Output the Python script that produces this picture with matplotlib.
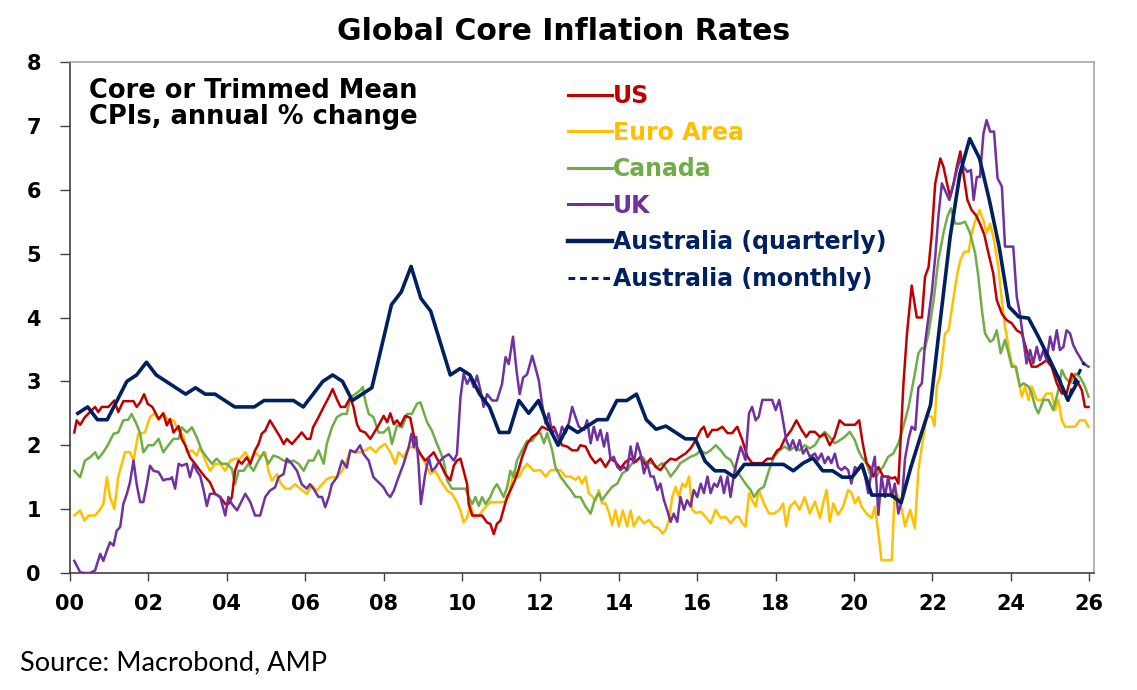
import numpy as np
import matplotlib
matplotlib.use("Agg")
import matplotlib.pyplot as plt
from matplotlib.lines import Line2D

# ---------------- data (decimal years since 2000, % y/y) ----------------
us_year = [0.11,0.17,0.26,0.38,0.51,0.64,0.72,0.81,0.98,1.13,1.23,1.36,1.49,1.62,1.7,1.79,1.89,1.98,2.1,2.17,2.26,2.38,2.47,2.55,2.64,2.77,2.85,2.94,3.06,3.19,3.32,3.45,3.57,3.7,3.83,3.96,4.04,4.13,4.21,4.3,4.38,4.51,4.6,4.72,4.81,4.89,4.98,5.1,5.23,5.36,5.45,5.53,5.66,5.79,5.91,6.04,6.13,6.2,6.34,6.47,6.6,6.7,6.8,6.9,7.02,7.15,7.23,7.32,7.4,7.53,7.66,7.74,7.87,8.0,8.09,8.17,8.26,8.34,8.43,8.55,8.68,8.77,8.85,8.94,9.06,9.15,9.28,9.36,9.45,9.57,9.7,9.79,9.87,9.96,10.04,10.13,10.17,10.26,10.38,10.51,10.64,10.72,10.81,10.89,10.98,11.06,11.15,11.23,11.36,11.45,11.53,11.66,11.79,11.91,12.04,12.2,12.34,12.43,12.55,12.68,12.81,12.94,13.02,13.15,13.28,13.4,13.53,13.66,13.79,13.91,14.04,14.17,14.3,14.43,14.55,14.68,14.81,14.94,15.06,15.19,15.32,15.45,15.57,15.7,15.83,15.96,16.09,16.17,16.26,16.38,16.51,16.64,16.77,16.89,17.02,17.15,17.28,17.4,17.53,17.66,17.79,17.91,18.04,18.12,18.23,18.4,18.53,18.66,18.78,18.87,19.0,19.13,19.25,19.38,19.5,19.63,19.76,19.89,20.02,20.13,20.22,20.32,20.4,20.49,20.62,20.74,20.87,20.96,21.05,21.13,21.26,21.35,21.47,21.6,21.73,21.81,21.9,21.98,22.07,22.2,22.28,22.37,22.45,22.54,22.62,22.71,22.79,22.89,23.0,23.11,23.21,23.32,23.43,23.55,23.64,23.77,23.89,24.02,24.15,24.28,24.4,24.53,24.66,24.79,24.91,25.04,25.17,25.3,25.42,25.55,25.68,25.81,25.89,25.98]
us_val = [2.2,2.39,2.32,2.44,2.52,2.6,2.52,2.6,2.6,2.7,2.52,2.69,2.69,2.69,2.6,2.67,2.8,2.65,2.6,2.52,2.41,2.5,2.31,2.41,2.2,2.3,2.1,2.0,1.81,1.71,1.6,1.5,1.42,1.24,1.19,1.08,1.08,1.19,1.6,1.76,1.71,1.81,1.71,1.92,2.02,2.18,2.23,2.39,2.26,2.13,2.02,2.1,2.02,2.11,2.2,2.1,2.1,2.28,2.44,2.6,2.75,2.88,2.73,2.6,2.6,2.75,2.6,2.33,2.23,2.2,2.1,2.18,2.31,2.46,2.36,2.5,2.33,2.39,2.31,2.46,2.43,2.15,1.97,1.86,1.76,1.81,1.89,1.79,1.71,1.55,1.45,1.68,1.76,1.79,1.6,1.39,1.08,0.9,0.9,0.9,0.79,0.77,0.61,0.77,0.82,1.0,1.19,1.29,1.47,1.63,1.81,2.02,2.13,2.18,2.29,2.24,2.29,2.16,2.0,1.98,1.92,1.92,2.0,1.98,1.82,1.72,1.79,1.66,1.79,1.74,1.64,1.74,1.79,1.74,1.82,1.69,1.79,1.66,1.61,1.72,1.79,1.77,1.82,1.87,1.95,2.08,2.24,2.29,2.13,2.24,2.24,2.29,2.19,2.19,2.29,2.08,1.82,1.72,1.72,1.72,1.79,1.79,1.92,1.95,2.1,2.24,2.39,2.24,2.13,2.21,2.21,2.13,2.18,2.0,2.13,2.39,2.32,2.32,2.32,2.39,2.03,1.72,1.66,1.51,1.66,1.51,1.51,1.48,1.5,1.4,2.97,3.75,4.5,4.0,4.0,4.64,4.79,5.3,6.1,6.49,6.36,6.1,5.89,6.1,6.36,6.6,6.25,5.84,5.68,5.6,5.47,5.3,5.0,4.69,4.27,4.06,3.96,3.91,3.8,3.75,3.49,3.23,3.23,3.28,3.33,3.23,2.97,2.81,2.81,3.12,3.02,2.86,2.6,2.6]

ea_year = [0.11,0.26,0.37,0.47,0.64,0.77,0.85,0.94,1.02,1.13,1.23,1.32,1.4,1.53,1.62,1.74,1.91,2.04,2.15,2.26,2.38,2.51,2.64,2.77,2.89,2.98,3.11,3.23,3.32,3.45,3.57,3.7,3.83,3.96,4.09,4.21,4.34,4.47,4.6,4.72,4.85,4.98,5.06,5.15,5.28,5.36,5.49,5.62,5.74,5.87,6.04,6.17,6.3,6.43,6.55,6.68,6.81,6.94,7.06,7.15,7.28,7.4,7.53,7.66,7.79,7.91,8.04,8.17,8.3,8.38,8.51,8.64,8.77,8.85,8.94,9.06,9.19,9.32,9.45,9.62,9.74,9.87,9.96,10.04,10.13,10.21,10.3,10.43,10.55,10.72,10.89,11.06,11.19,11.32,11.45,11.53,11.66,11.83,12.0,12.13,12.26,12.38,12.51,12.64,12.77,12.89,12.98,13.06,13.15,13.23,13.32,13.4,13.49,13.57,13.66,13.74,13.83,13.91,14.0,14.1,14.21,14.3,14.38,14.51,14.64,14.77,14.89,15.02,15.11,15.19,15.28,15.36,15.45,15.53,15.62,15.7,15.79,15.87,15.96,16.09,16.21,16.34,16.47,16.6,16.72,16.85,16.98,17.06,17.15,17.23,17.32,17.4,17.49,17.57,17.7,17.83,17.96,18.1,18.19,18.27,18.36,18.49,18.61,18.74,18.87,19.0,19.13,19.21,19.3,19.38,19.47,19.59,19.72,19.85,19.94,20.02,20.11,20.19,20.32,20.45,20.53,20.62,20.7,20.83,20.96,21.04,21.17,21.3,21.43,21.55,21.64,21.73,21.85,21.98,22.05,22.11,22.2,22.32,22.41,22.54,22.62,22.71,22.81,22.92,23.0,23.09,23.2,23.3,23.38,23.47,23.57,23.68,23.77,23.85,23.94,24.02,24.11,24.19,24.28,24.36,24.45,24.53,24.66,24.79,24.91,25.04,25.13,25.21,25.3,25.38,25.51,25.64,25.76,25.89,25.98]
ea_val = [0.9,0.98,0.82,0.9,0.9,1.0,1.08,1.5,1.19,1.0,1.5,1.71,1.89,1.89,1.76,2.18,2.2,2.44,2.5,2.4,2.5,2.39,2.39,2.23,2.15,1.89,1.92,1.84,1.97,1.76,1.6,1.71,1.71,1.6,1.76,1.79,1.79,1.89,1.76,1.89,1.81,1.89,1.6,1.45,1.55,1.42,1.32,1.32,1.39,1.32,1.24,1.37,1.29,1.39,1.47,1.5,1.5,1.6,1.76,1.92,1.89,1.89,1.92,1.97,1.89,1.97,2.02,1.89,1.71,1.89,1.81,1.97,1.97,1.92,1.86,1.71,1.55,1.6,1.45,1.29,1.24,1.11,0.98,0.79,0.87,1.08,0.87,0.9,1.0,1.11,1.11,1.11,1.19,1.6,1.5,1.6,1.71,1.6,1.61,1.51,1.61,1.61,1.61,1.51,1.51,1.46,1.51,1.4,1.51,1.25,1.2,1.14,1.3,1.09,1.09,0.96,0.75,0.98,0.73,0.98,0.73,0.98,0.73,0.88,0.78,0.83,0.73,0.7,0.62,0.67,0.83,1.19,1.35,1.19,1.4,1.35,1.51,0.99,0.94,0.96,0.88,0.78,0.99,0.86,0.88,0.78,0.88,0.88,0.78,0.73,1.25,1.14,1.04,1.3,1.09,0.93,0.93,0.99,1.09,0.73,1.04,1.12,0.99,1.19,0.93,1.12,0.86,1.09,1.3,0.8,1.09,0.91,1.04,1.3,1.25,1.09,1.19,1.04,0.93,0.86,1.04,0.62,0.2,0.2,0.2,1.3,1.14,0.73,0.99,0.7,1.61,1.98,2.45,2.45,2.3,2.92,3.1,3.75,3.8,4.32,4.64,4.9,5.03,5.03,5.32,5.52,5.68,5.52,5.32,5.47,5.21,4.79,4.27,3.85,3.54,3.28,3.23,3.02,2.76,2.92,2.71,2.92,2.71,2.71,2.81,2.81,2.55,2.71,2.39,2.29,2.29,2.29,2.39,2.39,2.29]

ca_year = [0.11,0.26,0.38,0.51,0.64,0.72,0.85,0.98,1.11,1.23,1.36,1.49,1.57,1.7,1.79,1.87,2.0,2.13,2.26,2.38,2.51,2.64,2.77,2.85,2.98,3.11,3.23,3.36,3.49,3.62,3.74,3.87,4.0,4.13,4.21,4.3,4.43,4.55,4.68,4.81,4.94,5.06,5.19,5.32,5.45,5.57,5.7,5.83,5.96,6.09,6.21,6.34,6.47,6.55,6.68,6.81,6.94,7.06,7.15,7.28,7.4,7.47,7.53,7.62,7.74,7.87,8.0,8.13,8.21,8.34,8.47,8.6,8.72,8.85,8.94,9.02,9.11,9.23,9.36,9.45,9.53,9.62,9.74,9.87,10.0,10.09,10.17,10.26,10.34,10.43,10.51,10.6,10.72,10.81,10.89,10.98,11.06,11.15,11.23,11.32,11.4,11.53,11.66,11.79,11.91,12.0,12.09,12.17,12.3,12.38,12.51,12.64,12.77,12.89,13.02,13.15,13.28,13.38,13.49,13.57,13.7,13.83,13.96,14.09,14.21,14.34,14.47,14.6,14.72,14.85,14.98,15.11,15.23,15.32,15.45,15.57,15.7,15.83,15.96,16.09,16.21,16.34,16.47,16.6,16.72,16.85,16.98,17.11,17.23,17.36,17.45,17.57,17.7,17.83,17.96,18.1,18.23,18.36,18.49,18.61,18.74,18.87,19.0,19.13,19.25,19.38,19.51,19.64,19.76,19.89,20.02,20.11,20.19,20.32,20.4,20.49,20.57,20.66,20.74,20.87,21.0,21.13,21.21,21.3,21.39,21.47,21.55,21.64,21.73,21.81,21.9,22.03,22.15,22.28,22.38,22.47,22.58,22.71,22.83,22.96,23.09,23.17,23.26,23.34,23.47,23.55,23.64,23.74,23.85,23.94,24.02,24.13,24.23,24.32,24.45,24.53,24.62,24.7,24.83,24.96,25.08,25.21,25.3,25.38,25.51,25.64,25.76,25.89,25.98]
ca_val = [1.6,1.5,1.76,1.81,1.89,1.79,1.89,2.02,2.18,2.2,2.39,2.4,2.49,2.33,2.18,1.89,2.0,2.0,2.1,1.89,2.0,2.1,2.1,2.28,2.2,2.28,2.13,1.92,1.81,1.71,1.79,1.71,1.71,1.63,1.39,1.6,1.6,1.71,1.6,1.76,1.89,1.71,1.84,1.81,1.76,1.73,1.76,1.71,1.6,1.76,1.76,1.92,1.71,2.02,2.28,2.44,2.49,2.49,2.75,2.8,2.86,2.91,2.7,2.49,2.44,2.2,2.2,2.28,2.02,2.31,2.28,2.49,2.49,2.65,2.67,2.52,2.36,2.23,2.02,1.89,1.76,1.45,1.32,1.32,1.32,1.32,1.19,1.08,1.19,1.05,1.19,1.08,1.19,1.32,1.39,1.29,1.19,1.34,1.6,1.5,1.76,1.92,2.07,2.07,2.18,2.19,2.03,2.19,1.92,1.66,1.51,1.4,1.3,1.19,1.19,1.04,0.93,1.14,1.25,1.14,1.25,1.35,1.4,1.56,1.61,1.72,1.77,1.82,1.72,1.72,1.66,1.72,1.61,1.51,1.61,1.72,1.77,1.82,1.85,1.92,1.87,1.92,2.0,1.92,1.82,1.77,1.61,1.51,1.4,1.3,1.19,1.3,1.35,1.61,1.82,1.92,1.98,1.92,1.98,1.92,2.0,1.95,2.0,2.13,2.21,2.13,2.03,2.08,2.13,2.21,2.08,1.92,1.82,1.72,1.56,1.61,1.51,1.61,1.66,1.82,1.87,2.03,2.19,2.39,2.6,2.86,3.12,3.44,3.52,3.52,3.75,4.27,4.9,5.32,5.58,5.71,5.47,5.47,5.5,5.32,5.0,4.64,4.12,3.75,3.62,3.65,3.8,3.44,3.65,3.44,3.23,3.23,2.92,2.97,2.92,2.81,2.6,2.5,2.71,2.71,2.55,2.86,3.18,3.07,2.97,3.12,3.07,2.92,2.76]

uk_year = [0.11,0.26,0.38,0.51,0.64,0.77,0.85,0.94,1.02,1.11,1.19,1.28,1.36,1.45,1.53,1.62,1.7,1.79,1.87,1.96,2.04,2.13,2.26,2.38,2.47,2.55,2.6,2.68,2.77,2.85,2.98,3.06,3.15,3.23,3.32,3.4,3.49,3.57,3.7,3.83,3.96,4.04,4.13,4.26,4.38,4.47,4.6,4.72,4.85,4.98,5.1,5.23,5.32,5.45,5.53,5.66,5.79,5.91,6.04,6.12,6.21,6.34,6.43,6.51,6.6,6.68,6.81,6.94,7.06,7.15,7.28,7.4,7.49,7.62,7.74,7.87,8.0,8.09,8.17,8.26,8.38,8.51,8.64,8.71,8.77,8.83,8.89,8.95,9.06,9.15,9.23,9.32,9.4,9.53,9.66,9.79,9.87,9.96,10.04,10.13,10.21,10.3,10.38,10.47,10.55,10.64,10.77,10.89,11.02,11.11,11.19,11.3,11.39,11.47,11.56,11.66,11.79,11.87,11.96,12.04,12.13,12.21,12.3,12.38,12.47,12.55,12.64,12.72,12.81,12.89,12.98,13.11,13.19,13.28,13.36,13.45,13.53,13.62,13.7,13.79,13.87,13.96,14.04,14.13,14.21,14.3,14.38,14.47,14.55,14.64,14.72,14.81,14.89,14.98,15.06,15.15,15.23,15.32,15.4,15.49,15.57,15.66,15.74,15.83,15.91,16.0,16.09,16.17,16.26,16.34,16.43,16.51,16.6,16.68,16.77,16.85,16.94,17.02,17.11,17.23,17.32,17.4,17.49,17.57,17.66,17.79,17.91,18.0,18.09,18.17,18.27,18.36,18.44,18.53,18.61,18.7,18.78,18.87,19.0,19.08,19.17,19.25,19.34,19.42,19.51,19.59,19.68,19.76,19.85,19.93,20.02,20.11,20.19,20.28,20.36,20.45,20.53,20.62,20.7,20.79,20.87,20.96,21.04,21.13,21.22,21.3,21.39,21.47,21.56,21.64,21.73,21.81,21.9,21.98,22.07,22.15,22.24,22.32,22.43,22.54,22.62,22.71,22.79,22.89,22.98,23.05,23.13,23.21,23.3,23.38,23.47,23.57,23.66,23.77,23.85,23.94,24.06,24.15,24.23,24.32,24.4,24.49,24.57,24.66,24.74,24.83,24.91,25.0,25.08,25.17,25.25,25.34,25.42,25.51,25.59,25.68,25.76,25.85,25.98]
uk_val = [0.19,0.01,0.0,0.0,0.04,0.3,0.19,0.35,0.48,0.43,0.66,0.72,1.08,1.24,1.42,1.76,1.39,1.11,1.11,1.39,1.68,1.6,1.58,1.45,1.47,1.47,1.5,1.32,1.71,1.68,1.71,1.5,1.71,1.6,1.52,1.32,1.05,1.24,1.24,1.19,0.9,1.19,1.08,0.98,1.13,1.24,1.11,0.9,0.9,1.19,1.29,1.34,1.5,1.55,1.79,1.71,1.6,1.39,1.32,1.39,1.32,1.19,1.19,1.03,1.19,1.39,1.5,1.76,1.65,1.92,1.89,2.0,1.86,1.76,1.5,1.42,1.34,1.24,1.19,1.29,1.5,1.71,1.97,2.18,1.97,2.13,1.71,1.08,1.55,1.81,1.6,1.65,1.73,1.81,1.86,1.76,1.86,2.75,3.12,2.96,3.06,2.91,3.09,2.86,2.6,2.8,2.7,2.7,2.96,3.38,3.27,3.7,3.17,2.8,3.06,3.11,3.4,3.22,3.01,2.65,2.34,2.5,2.19,2.24,2.08,2.29,2.19,2.34,2.6,2.45,2.29,2.24,2.39,2.03,2.29,2.08,2.24,1.98,2.19,1.77,1.82,1.66,1.61,1.66,1.61,1.98,1.72,2.03,1.87,1.56,1.72,1.51,1.51,1.3,1.4,1.14,0.99,0.8,0.93,0.8,1.19,0.99,1.14,1.04,1.3,1.19,1.4,1.25,1.51,1.25,1.4,1.35,1.51,1.25,1.51,1.19,1.56,1.77,1.98,1.77,2.5,2.6,2.39,2.45,2.71,2.71,2.71,2.55,2.71,2.45,2.08,1.95,2.08,1.92,2.08,1.87,1.95,1.82,1.87,1.77,1.87,1.72,1.82,1.72,1.87,1.66,1.61,1.66,1.61,1.4,1.66,1.61,1.69,1.51,1.25,1.61,1.82,0.91,1.51,1.19,1.51,1.19,1.4,0.93,1.14,1.79,2.1,2.29,2.24,2.9,2.97,3.6,4.01,4.38,4.95,5.58,6.1,5.99,5.84,6.1,6.31,6.49,6.36,6.28,6.31,5.84,6.2,6.2,6.88,7.09,6.91,6.91,6.18,6.05,5.11,5.11,5.11,4.32,4.06,3.65,3.28,3.49,3.28,3.54,3.33,3.49,3.33,3.7,3.49,3.8,3.49,3.54,3.8,3.75,3.57,3.46,3.38,3.28,3.23]

# Australia trimmed mean, quarterly (first quarter 2000 Q1)
au_q_val = [2.5,2.6,2.4,2.4,2.7,3.0,3.1,3.3,3.1,3.0,2.9,2.8,2.9,2.8,2.8,2.7,2.6,2.6,2.6,2.7,2.7,2.7,2.7,2.6,2.8,3.0,3.1,3.0,2.7,2.8,2.9,3.55,4.2,4.4,4.8,4.3,4.1,3.6,3.1,3.2,3.1,2.8,2.6,2.2,2.2,2.7,2.5,2.7,2.3,2.0,2.3,2.2,2.3,2.4,2.4,2.7,2.7,2.8,2.4,2.25,2.3,2.2,2.1,2.1,1.75,1.6,1.6,1.5,1.7,1.7,1.7,1.7,1.7,1.6,1.72,1.8,1.6,1.6,1.5,1.5,1.7,1.22,1.22,1.22,1.1,1.66,2.15,2.63,3.96,5.26,6.25,6.8,6.49,5.84,5.11,4.17,4.01,3.99,3.7,3.39,3.07,2.71,2.99]
# Australia trimmed mean, monthly series (recent)
au_m_year = [25.21,25.29,25.38,25.46,25.54,25.63,25.71,25.79,25.88]
au_m_val = [3.07,2.95,2.8,2.7,2.85,3.0,3.1,3.2,3.3]

series_names = ["US", "Euro Area", "Canada", "UK", "Australia (quarterly)", "Australia (monthly)"]
colors = ["#C00000", "#FFC000", "#70AD47", "#7030A0", "#002060", "#002060"]

x_ticks = list(range(0, 27, 2))
x_labels = ["%02d" % t for t in x_ticks]
y_ticks = list(range(0, 9))

# quarterly x positions (mid month of quarter-end months)
au_q_year = 0.2 + 0.25 * np.arange(len(au_q_val))

# ---------------- figure ----------------
plt.rcParams['font.family'] = ['DejaVu Sans']
fig = plt.figure(figsize=(11.37, 6.90), dpi=100)
ax = fig.add_axes([70/1137, 1-573/690, (1094-70)/1137, (573-62)/690])

lw = 1.8
ax.plot(ea_year, ea_val, color=colors[1], lw=lw, zorder=3)
ax.plot(ca_year, ca_val, color=colors[2], lw=lw, zorder=4)
ax.plot(us_year, us_val, color=colors[0], lw=lw, zorder=5)
ax.plot(uk_year, uk_val, color=colors[3], lw=lw, zorder=5)
ax.plot(au_q_year, au_q_val, color=colors[4], lw=2.6, zorder=6)
ax.plot(au_m_year, au_m_val, color=colors[5], lw=2.2, ls=(0, (2, 1.5)), zorder=7)

ax.set_xlim(0, 26.12)
ax.set_ylim(0, 8)
ax.set_xticks(x_ticks)
ax.set_xticklabels(x_labels)
ax.set_yticks(y_ticks)
ax.tick_params(axis='both', direction='out', labelsize=15, colors='#404040',
               labelcolor='black', width=1.0)
ax.tick_params(axis='y', length=7, pad=14)
ax.tick_params(axis='x', length=6, pad=9)
for lab in ax.get_xticklabels() + ax.get_yticklabels():
    lab.set_fontweight('bold')
for s in ['left', 'bottom']:
    ax.spines[s].set_color('#404040')
    ax.spines[s].set_linewidth(1.2)
for s in ['top', 'right']:
    ax.spines[s].set_color('#A6A6A6')
    ax.spines[s].set_linewidth(1.2)

# legend
handles = [
    Line2D([], [], color=colors[0], lw=2.2),
    Line2D([], [], color=colors[1], lw=2.2),
    Line2D([], [], color=colors[2], lw=2.2),
    Line2D([], [], color=colors[3], lw=2.2),
    Line2D([], [], color=colors[4], lw=3.2),
    Line2D([], [], color=colors[5], lw=2.2, ls=(0, (2.2, 1.6))),
]
leg = ax.legend(handles, series_names, loc='upper left',
                bbox_to_anchor=(0.477, 0.975), frameon=False,
                prop={'size': 17, 'weight': 'bold'}, labelcolor='linecolor',
                handlelength=1.85, handletextpad=0.05, labelspacing=0.53,
                borderaxespad=0.0)

ax.text(0.019, 0.968, "Core or Trimmed Mean\nCPIs, annual % change",
        transform=ax.transAxes, ha='left', va='top', fontsize=18.5,
        fontweight='bold', linespacing=1.0)

fig.text(0.496, 0.954, "Global Core Inflation Rates", ha='center', va='center',
         fontsize=21.5, fontweight='bold')
fig.text(20/1137, 1-663/690, "Source: Macrobond, AMP", ha='left', va='center',
         fontsize=19.5, family=['Lato', 'DejaVu Sans'])

fig.savefig("out.png", dpi=100)
